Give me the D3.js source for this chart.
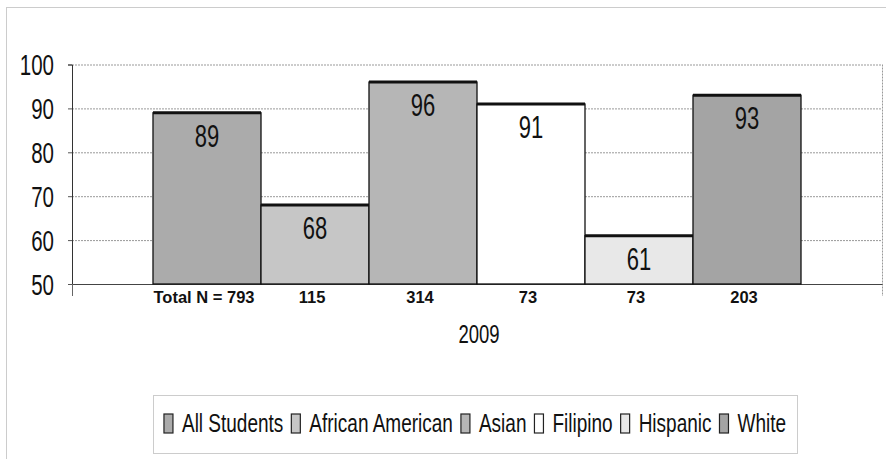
<!DOCTYPE html>
<html>
<head>
<meta charset="utf-8">
<script src="https://cdn.jsdelivr.net/npm/d3@7"></script>
<style>
  body { margin: 0; background: #fff; }
  text { font-family: "Liberation Sans", Arial, sans-serif; fill: #111; }
  .bold { font-weight: bold; }
</style>
</head>
<body>
<svg id="chart" width="886" height="459"></svg>
<script>
const categories = ["2009"];
const series = ["All Students", "African American", "Asian", "Filipino", "Hispanic", "White"];
const values = [89, 68, 96, 91, 61, 93];
const nLabels = ["Total N = 793", "115", "314", "73", "73", "203"];
const yTicks = [50, 60, 70, 80, 90, 100];
const fills = ["#ababab", "#c6c6c6", "#b6b6b6", "#ffffff", "#e8e8e8", "#a4a4a4"];

const svg = d3.select("#chart");
const margin = {top: 64.5, right: 4, bottom: 175, left: 72};
const width = 886;
const height = 459;
const stretch = 1.4; // scanned text is taller than it is wide

// outer chart frame (dotted)
svg.append("rect")
    .attr("x", 6.5).attr("y", 7.5)
    .attr("width", 900).attr("height", 470)
    .attr("fill", "none")
    .attr("stroke", "#999")
    .attr("stroke-dasharray", "1,1");

const y = d3.scaleLinear()
    .domain([50, 100])
    .range([height - margin.bottom, margin.top]);

const x0 = d3.scaleBand()
    .domain(categories)
    .range([margin.left, width - margin.right])
    .padding(0);

const x1 = d3.scaleBand()
    .domain(series)
    .range([0, x0.bandwidth()])
    .paddingInner(0)
    .paddingOuter(0.75);

// gridlines
svg.append("g")
    .selectAll("line")
    .data(yTicks.slice(1))
    .join("line")
    .attr("x1", margin.left).attr("x2", width - margin.right)
    .attr("y1", d => y(d) + 0.5).attr("y2", d => y(d) + 0.5)
    .attr("stroke", "#999")
    .attr("stroke-dasharray", "2,1");

// right border of plot area
svg.append("line")
    .attr("x1", width - margin.right + 0.5).attr("x2", width - margin.right + 0.5)
    .attr("y1", y(100)).attr("y2", y(50) + 12)
    .attr("stroke", "#999")
    .attr("stroke-dasharray", "2,1");

// y axis
const yAxis = svg.append("g")
    .attr("transform", `translate(${margin.left},0)`)
    .call(d3.axisLeft(y).tickValues(yTicks).tickSize(4).tickPadding(14));
yAxis.select(".domain").attr("stroke", "#333");
yAxis.selectAll(".tick line").attr("stroke", "#555");
yAxis.selectAll(".tick text")
    .attr("font-size", 20.5)
    .attr("font-family", null)
    .attr("fill", "#111")
    .attr("dy", "0.36em")
    .attr("transform", `scale(1,${stretch})`);

// x axis line
const xAxis = svg.append("g")
    .attr("transform", `translate(0,${y(50)})`)
    .call(d3.axisBottom(x0).tickSize(0).tickFormat(""));
xAxis.select(".domain").attr("stroke", "#444");
svg.append("line")
    .attr("x1", margin.left + 0.5).attr("x2", margin.left + 0.5)
    .attr("y1", y(50)).attr("y2", y(50) + 12)
    .attr("stroke", "#666");

// bars
const g = svg.append("g").attr("transform", `translate(${x0("2009")},0)`);
const bars = g.selectAll("g.bar")
    .data(series.map((s, i) => ({s, v: values[i], n: nLabels[i], f: fills[i]})))
    .join("g").attr("class", "bar");

bars.append("rect")
    .attr("x", d => x1(d.s))
    .attr("y", d => y(d.v))
    .attr("width", x1.bandwidth())
    .attr("height", d => y(50) - y(d.v))
    .attr("fill", d => d.f)
    .attr("stroke", "#111")
    .attr("stroke-width", 1.3);

bars.append("line")
    .attr("x1", d => x1(d.s)).attr("x2", d => x1(d.s) + x1.bandwidth())
    .attr("y1", d => y(d.v)).attr("y2", d => y(d.v))
    .attr("stroke", "#111")
    .attr("stroke-width", 3);

bars.append("text")
    .attr("text-anchor", "middle")
    .attr("transform", d => `translate(${x1(d.s) + x1.bandwidth() / 2},${y(d.v) + 34}) scale(1,${stretch})`)
    .attr("font-size", 22)
    .text(d => d.v);

bars.append("text")
    .attr("class", "bold")
    .attr("text-anchor", "middle")
    .attr("x", d => x1(d.s) + x1.bandwidth() / 2 - 3)
    .attr("y", y(50) + 19)
    .attr("font-size", 16.5)
    .text(d => d.n);

// category label
svg.append("text")
    .attr("text-anchor", "middle")
    .attr("transform", `translate(${x0("2009") + x0.bandwidth() / 2 + 2},${y(50) + 59}) scale(1,${stretch})`)
    .attr("font-size", 18.5)
    .text(categories[0]);

// legend
const legend = svg.append("g");
legend.append("rect")
    .attr("x", 153.5).attr("y", 395.5)
    .attr("width", 644).attr("height", 58)
    .attr("fill", "none")
    .attr("stroke", "#999")
    .attr("stroke-dasharray", "1,1");

const items = legend.selectAll("g.item")
    .data(series.map((s, i) => ({s, f: fills[i]})))
    .join("g").attr("class", "item");
items.append("rect")
    .attr("width", 9).attr("height", 19)
    .attr("y", 414)
    .attr("fill", d => d.f)
    .attr("stroke", "#222")
    .attr("stroke-width", 1.2);
items.append("text")
    .attr("font-size", 19)
    .attr("transform", `translate(18,432) scale(1,${stretch})`)
    .text(d => d.s);

let cx = 0;
const pos = [];
items.each(function () {
    const w = d3.select(this).select("text").node().getComputedTextLength();
    pos.push(cx);
    cx += 18 + w + 8;
});
const totalW = cx - 8;
const startX = 475 - totalW / 2;
items.attr("transform", (d, i) => `translate(${startX + pos[i]},0)`);
</script>
</body>
</html>
